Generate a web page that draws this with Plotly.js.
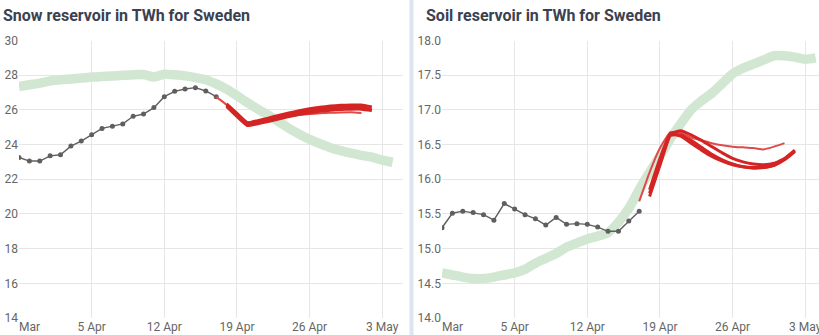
<!DOCTYPE html>
<html>
<head>
<meta charset="utf-8">
<script src="https://cdn.plot.ly/plotly-3.0.1.min.js"></script>
<style>
html,body{margin:0;padding:0;overflow:hidden;background:#fff;width:819px;height:335px;}
#chart{width:830px;height:335px;}
</style>
</head>
<body>
<div id="chart"></div>
<script>
// ---- data ----
const startDate = '2021-03-29';           // day 0
const tickDates = ['2021-03-29','2021-04-05','2021-04-12','2021-04-19','2021-04-26','2021-05-03'];
const tickLabels = ['','5 Apr','12 Apr','19 Apr','26 Apr','3 May'];
const firstTickDate = ['2021-03-29'];
const firstTickLabel = ['Mar'];

// Snow reservoir (TWh)
const snowObserved = [23.26,23.05,23.05,23.35,23.41,23.91,24.2,24.56,24.93,25.06,25.19,25.63,25.76,26.13,26.76,27.07,27.2,27.28,27.09,26.76];
const snowNormal = [27.35,27.45,27.54,27.67,27.74,27.78,27.83,27.89,27.92,27.95,27.99,28.03,28.04,27.9,28.06,28.02,27.96,27.86,27.74,27.5,27.2,26.82,26.42,26.05,25.7,25.32,24.94,24.6,24.3,24.05,23.82,23.65,23.5,23.38,23.27,23.1,22.98];
const snowFc1 = [26.75,26.3,25.8,25.3,25.33,25.43,25.53,25.62,25.7,25.76,25.8,25.83,25.85,25.86,25.82];   // from day 19
const snowFc2 = [26.35,25.8,25.25,25.38,25.52,25.68,25.82,25.95,26.06,26.15,26.22,26.26,26.28,26.28,26.17]; // from day 20
const snowFc3 = [26.25,25.7,25.15,25.28,25.42,25.57,25.72,25.85,25.95,26.04,26.1,26.14,26.16,26.16,26.0];
const snowFc4 = [26.2,25.62,25.1,25.2,25.33,25.47,25.62,25.74,25.84,25.92,25.98,26.02,26.04,26.04,25.96];

// Soil reservoir (TWh)
const soilObserved = [15.30,15.51,15.54,15.52,15.49,15.41,15.65,15.57,15.49,15.43,15.34,15.45,15.35,15.36,15.35,15.31,15.25,15.25,15.40,15.54];
const soilNormal = [14.65,14.62,14.59,14.57,14.57,14.59,14.62,14.65,14.70,14.79,14.86,14.93,15.02,15.08,15.14,15.18,15.23,15.38,15.58,15.85,16.1,16.33,16.58,16.8,17.0,17.13,17.24,17.38,17.52,17.6,17.66,17.72,17.78,17.78,17.76,17.73,17.75];
const soilFc1 = [15.68,16.1,16.45,16.68,16.67,16.6,16.56,16.52,16.49,16.47,16.46,16.45,16.43,16.47,16.52]; // from day 19
const soilFc2 = [15.8,16.25,16.65,16.7,16.64,16.56,16.47,16.38,16.3,16.25,16.22,16.21,16.23,16.3,16.42];    // from day 20
const soilFc3 = [15.75,16.2,16.63,16.64,16.56,16.46,16.36,16.28,16.22,16.18,16.17,16.17,16.2,16.28,16.4];
const soilFc4 = [15.85,16.3,16.66,16.62,16.52,16.42,16.33,16.26,16.21,16.18,16.16,16.17,16.2,16.29,16.41];

// ---- helpers ----
function datesFrom(offset, n){
  const out=[]; const base=new Date(startDate+'T00:00:00Z');
  for(let i=0;i<n;i++){const d=new Date(base.getTime()+(offset+i)*86400000);out.push(d.toISOString().slice(0,10));}
  return out;
}
const W=830,H=335;
const GREEN='#d2e7d2', OBS='#5f5f5f', RED='#d42424', RED2='#e04a4a';

function panel(xa, ya, normal, obs, fcs){
  const tr=[];
  tr.push({x:datesFrom(0,normal.length),y:normal,xaxis:xa,yaxis:ya,mode:'lines',line:{color:GREEN,width:9.5,shape:'spline',smoothing:0.6},hoverinfo:'skip'});
  tr.push({x:datesFrom(0,obs.length),y:obs,xaxis:xa,yaxis:ya,mode:'lines+markers',line:{color:OBS,width:1.4},marker:{color:OBS,size:5},hoverinfo:'skip'});
  fcs.forEach((f,i)=>{
    tr.push({x:datesFrom(f.start,f.v.length),y:f.v,xaxis:xa,yaxis:ya,mode:'lines',
      line:{color:i===0?RED2:RED,width:i===0?2:3,shape:'spline',smoothing:0.35},hoverinfo:'skip'});
  });
  return tr;
}

const data = [].concat(
  panel('x','y',snowNormal,snowObserved,[{start:19,v:snowFc1},{start:20,v:snowFc2},{start:20,v:snowFc3},{start:20,v:snowFc4}]),
  panel('x2','y2',soilNormal,soilObserved,[{start:19,v:soilFc1},{start:20,v:soilFc2},{start:20,v:soilFc3},{start:20,v:soilFc4}]),
  [{x:[],y:[],xaxis:'x3',yaxis:'y',mode:'lines',hoverinfo:'skip'},
   {x:[],y:[],xaxis:'x4',yaxis:'y2',mode:'lines',hoverinfo:'skip'}]
);

const tickfont={family:'Roboto, sans-serif',size:12,color:'#666'};
const ydom=[(H-318)/H,(H-40.5)/H];
const xrange=['2021-03-29','2021-05-05'];
const xcommon={type:'date',range:xrange,tickvals:tickDates,ticktext:tickLabels,
  showgrid:true,gridcolor:'#e6e6e6',gridwidth:1,zeroline:false,showline:false,ticks:'',tickfont:tickfont,fixedrange:true};
const xfirst={type:'date',range:xrange,tickvals:firstTickDate,ticktext:firstTickLabel,ticklabelposition:'outside right',
  showgrid:false,zeroline:false,showline:false,ticks:'',tickfont:tickfont,fixedrange:true,side:'bottom'};
const ycommon={showgrid:true,gridcolor:'#e6e6e6',zeroline:false,showline:false,ticks:'',tickfont:tickfont,fixedrange:true};
const layout={
  width:W,height:H,margin:{l:0,r:0,t:0,b:0},
  paper_bgcolor:'#fff',plot_bgcolor:'#fff',showlegend:false,
  xaxis:Object.assign({},xcommon,{domain:[19/W,403/W],anchor:'y'}),
  yaxis:Object.assign({},ycommon,{domain:ydom,range:[14,30],dtick:2,tick0:14,anchor:'x'}),
  xaxis2:Object.assign({},xcommon,{domain:[442/W,826/W],anchor:'y2'}),
  yaxis2:Object.assign({},ycommon,{domain:ydom,range:[14,18],dtick:0.5,tick0:14,tickformat:'.1f',anchor:'x2'}),
  xaxis3:Object.assign({},xfirst,{overlaying:'x',anchor:'y'}),
  xaxis4:Object.assign({},xfirst,{overlaying:'x2',anchor:'y2'}),
  shapes:[{type:'rect',xref:'paper',yref:'paper',x0:409.5/W,x1:413.5/W,y0:0,y1:1,fillcolor:'#dde6ef',line:{width:0},layer:'above'}],
  annotations:[
    {text:'<b>Snow reservoir in TWh for Sweden</b>',xref:'paper',yref:'paper',x:1/W,y:(H-15)/H,xanchor:'left',yanchor:'middle',showarrow:false,font:{family:'Roboto, sans-serif',size:16,color:'#3b4150'}},
    {text:'<b>Soil reservoir in TWh for Sweden</b>',xref:'paper',yref:'paper',x:424/W,y:(H-15)/H,xanchor:'left',yanchor:'middle',showarrow:false,font:{family:'Roboto, sans-serif',size:16,color:'#3b4150'}}
  ]
};
Plotly.newPlot('chart',data,layout,{displayModeBar:false,staticPlot:true});
</script>
</body>
</html>
